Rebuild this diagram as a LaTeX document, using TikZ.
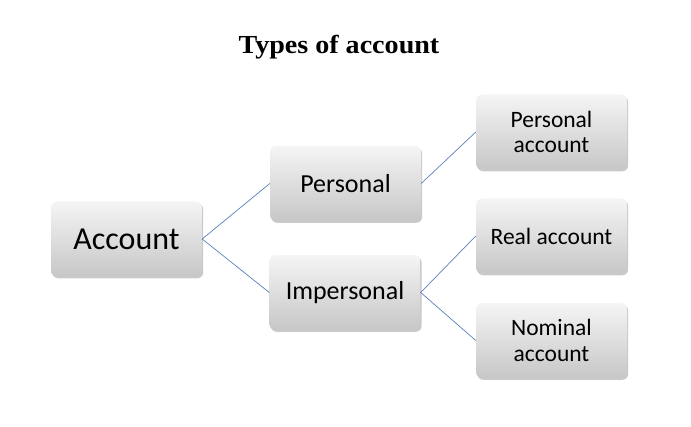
\documentclass[tikz,border=0pt]{standalone}
\usepackage{fontspec}
\setmainfont{Carlito}
\newfontfamily\titlefont{Liberation Serif}
\usetikzlibrary{shadows}
\definecolor{linkblue}{HTML}{5A7FB8}
\tikzset{
	box/.style={rounded corners=6pt,top color=white!96!black,bottom color=black!22,
		drop shadow={shadow xshift=1.2pt,shadow yshift=-1.8pt,opacity=.35,fill=black!60},
		minimum width=151pt,minimum height=75pt,inner sep=0pt,align=center},
	link/.style={linkblue,line width=.7pt}
}
\begin{document}
\begin{tikzpicture}[x=1pt,y=-1pt]
		\useasboundingbox(0,0)rectangle(691,427);
		\node(T)at(339,47){\titlefont\bfseries\fontsize{26}{26}\selectfont\scalebox{1.08}[1]{Types of account}};
		\node[box,font=\fontsize{32}{32}\selectfont](Acc)at(126.5,239){Account};
		\node[box,font=\fontsize{26}{26}\selectfont](Pers)at(345.5,183.5){Personal};
		\node[box,font=\fontsize{26}{26}\selectfont](Imp)at(345,292.5){Impersonal};
		\node[box,font=\fontsize{23.5}{25.5}\selectfont](PA)at(551.5,132){Personal\\account};
		\node[box,font=\fontsize{23.5}{25.5}\selectfont](RA)at(551.5,236){Real account};
		\node[box,font=\fontsize{23.5}{25.5}\selectfont](NA)at(551.5,340.5){Nominal\\account};
		\foreach\a/\b in{Acc/Pers,Acc/Imp,Pers/PA,Imp/RA,Imp/NA}{\draw[link](\a.east)--(\b.west);}
		\end{tikzpicture}
\end{document}
